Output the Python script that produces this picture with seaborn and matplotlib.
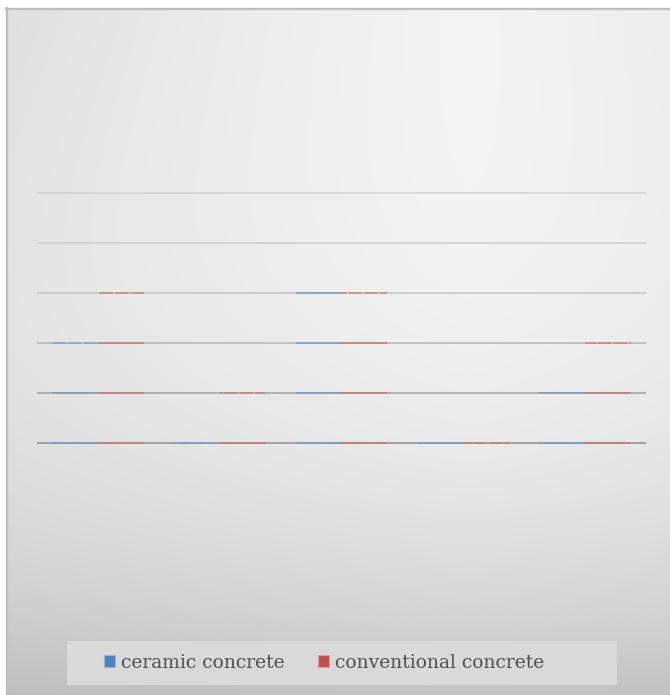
import numpy as np
import pandas as pd
import seaborn as sns
import matplotlib.pyplot as plt
from matplotlib.patches import Patch, Rectangle
from matplotlib.transforms import Bbox, TransformedBbox

# ---- data (gridlines at 0..5) ----
categories = ["1", "2", "3", "4", "5"]
ceramic = [2.03, 0.03, 3.2, 0.3, 1.5]
conventional = [3.03, 1.03, 3.03, 0.03, 2.03]
series_names = ["ceramic concrete", "conventional concrete"]
grid_values = [0, 1, 2, 3, 4, 5]

df = pd.DataFrame({
    "category": categories * 2,
    "value": ceramic + conventional,
    "series": [series_names[0]] * len(categories) + [series_names[1]] * len(categories),
})

BLUE = "#4f81bd"
RED = "#c0504d"
BLUE_LINE = "#7b9bc4"
RED_LINE = "#c47a78"
grid_colors = ["#909090", "#a2a2a2", "#b4b4b4", "#c4c4c4", "#cdcdcd", "#d2d2d2"]

W, H = 670, 695
fig = plt.figure(figsize=(W / 100, H / 100), dpi=100)

# ---- background gradient panel ----
bg = fig.add_axes([0, 0, 1, 1], zorder=0)
yy, xx = np.mgrid[0:H, 0:W].astype(float)
fy = 0.19 * (yy / H) ** 3.5
gx = 0.078 * (np.abs(xx - 470) / 464) ** 1.3 * (1 - 0.75 * yy / H)
val = np.clip(0.955 - fy - gx, 0, 1)
img = np.dstack([val, val, val])
img[:8, :] = 1.0
img[:, :6] = 1.0
bg.imshow(img, extent=[0, W, H, 0], aspect="auto", interpolation="bilinear")
bg.plot([6.5, 6.5], [8, H], color="#bdbdbd", lw=1.6)
bg.plot([6, W], [8.5, 8.5], color="#bdbdbd", lw=1.6)
bg.add_patch(Rectangle((67, 641), 550, 44, facecolor="#d9d9d9", edgecolor="none"))
bg.set_xlim(0, W)
bg.set_ylim(H, 0)
bg.axis("off")

# ---- main axes ----
ax = fig.add_axes([37 / W, (H - 453) / H, 609 / W, 270 / H], zorder=1)
ax.patch.set_alpha(0)
sns.barplot(data=df, x="category", y="value", hue="series",
            palette=[BLUE, RED], width=0.75, ax=ax, legend=False)
ax.set_xlim(-0.5, len(categories) - 0.5)
ax.set_ylim(-0.2, 5.2)

for g, gc in zip(grid_values, grid_colors):
    ax.axhline(g, color=gc, lw=1.1, zorder=1)

line_colors = [BLUE_LINE, RED_LINE]
for cont, lc in zip(ax.containers, line_colors):
    for bar in cont:
        bar.set_facecolor("none")
        bar.set_edgecolor("none")
        h = bar.get_height()
        for g in grid_values:
            if g > h:
                continue
            near_top = (h - g) < 0.1
            ln = ax.axhline(g, color=lc, lw=1.1, zorder=2,
                            alpha=0.85 if near_top else 1.0,
                            dashes=(9, 1.2) if near_top else (None, None))
            x0 = bar.get_x()
            clip = TransformedBbox(Bbox([[x0, g - 0.3], [x0 + bar.get_width(), g + 0.3]]),
                                   ax.transData)
            ln.set_clip_box(clip)

for s in ax.spines.values():
    s.set_visible(False)
ax.set_xticks([])
ax.set_yticks([])
ax.set_xlabel("")
ax.set_ylabel("")

handles = [Patch(facecolor=BLUE, edgecolor="#9ab3d6", lw=0.8),
           Patch(facecolor=RED, edgecolor="#dd9a98", lw=0.8)]
fig.legend(handles, series_names, loc="center", bbox_to_anchor=(324 / W, (H - 663) / H),
           ncol=2, frameon=False, handlelength=0.6, handleheight=0.6,
           handletextpad=0.3, columnspacing=1.8,
           prop={"family": "DejaVu Serif", "size": 13.5}, labelcolor="#505050")

fig.savefig("out.png", dpi=100)
